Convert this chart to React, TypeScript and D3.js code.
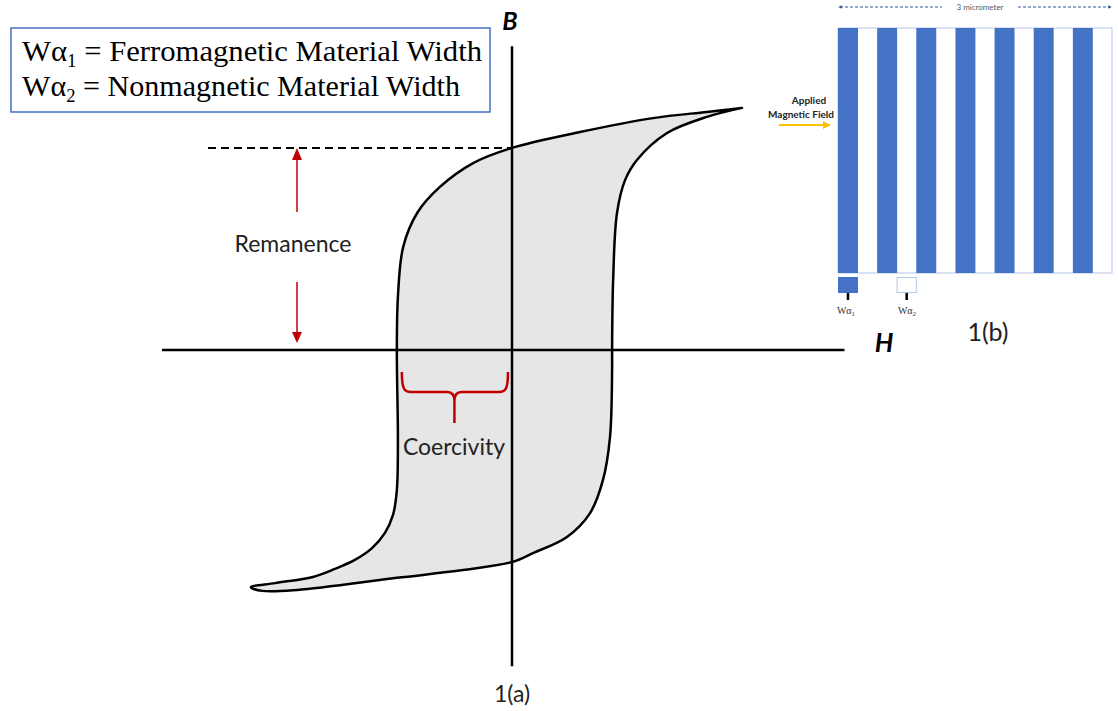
import * as d3 from "d3";

// hysteresis loop, (H, B) in arbitrary units
const descendingBranch: [number, number][] = [
  [6.57, 7.81], [5.57, 7.68], [4.03, 7.48], [1.94, 7.03], [0, 6.52],
  [-1.11, 6.03], [-2.06, 5.26], [-2.71, 4.42], [-3.11, 3.32], [-3.26, 1.71],
  [-3.29, 0], [-3.26, -2.9], [-3.29, -4.52], [-3.4, -5.32], [-3.63, -5.9],
  [-4.0, -6.39], [-4.49, -6.77], [-5.06, -7.06], [-5.69, -7.32],
  [-6.77, -7.52], [-7.46, -7.65],
];
const lowerEdge: [number, number][] = [
  [-7.14, -7.77], [-6.14, -7.74], [-3.29, -7.35], [-1.4, -7.1], [0, -6.84],
  [0.6, -6.55], [1.57, -6.03],
];
const ascendingBranch: [number, number][] = [
  [2.23, -5.26], [2.6, -4.19], [2.8, -2.81], [2.86, -0.65], [2.86, 0],
  [2.89, 2.26], [3.0, 4.42], [3.23, 5.48], [3.57, 6.13], [4.43, 7.0],
  [5.57, 7.52], [6.57, 7.81],
];

const remanence = 6.52;
const coercivity = -3.29;
const hAxisExtent = [-10, 9.5];
const bAxisExtent = [-10.2, 9.8];

const legendLines = [
  { sub: "1", label: "Ferromagnetic Material Width", len: 460 },
  { sub: "2", label: "Nonmagnetic Material Width", len: 438 },
];

// 1(b) stripe pattern
const stripes = [1, 2, 3, 4, 5, 6, 7];
const ferroShare = 0.51;

export default function App() {
  const width = 1118;
  const height = 711;

  const x = d3.scaleLinear().domain([-10, 10]).range([162, 862]);
  const y = d3.scaleLinear().domain([-10, 10]).range([660, 40]);

  const loop = [...descendingBranch, ...lowerEdge, ...ascendingBranch];
  const line = d3
    .line<[number, number]>()
    .x((d) => x(d[0]))
    .y((d) => y(d[1]))
    .curve(d3.curveCatmullRom.alpha(0.5));

  const x0 = x(0);
  const y0 = y(0);
  const yR = y(remanence);
  const xC = x(coercivity);

  const band = d3.scaleBand<number>().domain(stripes).range([838, 1112]);
  const stripeTop = 28;
  const stripeBottom = 273;
  const stripeW = band.bandwidth() * ferroShare;

  const red = "#c00000";
  const sans = "Lato, 'Open Sans', sans-serif";
  const serif = "'Liberation Serif', 'DejaVu Serif', serif";

  const arrowX = 297;
  const braceMid = (xC + x0) / 2;
  const bl = xC + 5;
  const br = x0 - 4;

  const b1 = band(1) as number;
  const b2 = band(2) as number;
  const gapW = band.bandwidth() - stripeW;

  return (
    <svg
      width={width}
      height={height}
      style={{ position: "absolute", left: 0, top: 0, background: "#fff" }}
    >
      <defs>
        <marker id="ora" viewBox="0 0 10 10" refX="9" refY="5" markerWidth="4" markerHeight="4" orient="auto">
          <path d="M0,0 L10,5 L0,10 z" fill="#ffc000" />
        </marker>
        <marker id="blu" viewBox="0 0 10 10" refX="5" refY="5" markerWidth="3" markerHeight="3" orient="auto-start-reverse">
          <path d="M0,0 L10,5 L0,10 z" fill="#2f5597" />
        </marker>
      </defs>

      {/* legend box */}
      <rect x={11} y={28} width={479} height={84} fill="#fff" stroke="#4472c4" strokeWidth={1.5} />
      {legendLines.map((d, i) => (
        <text
          key={d.sub}
          x={22}
          y={61 + i * 35}
          fontFamily={serif}
          fontSize={29}
          fill="#000"
          textLength={d.len}
          lengthAdjust="spacingAndGlyphs"
        >
          Wα<tspan fontSize={18} dy={6}>{d.sub}</tspan>
          <tspan dy={-6}> = {d.label}</tspan>
        </text>
      ))}

      {/* loop */}
      <path d={line(loop) + "Z"} fill="#e6e6e6" stroke="#000" strokeWidth={2.5} strokeLinejoin="round" />

      {/* axes */}
      <line x1={x(hAxisExtent[0])} x2={x(hAxisExtent[1])} y1={y0} y2={y0} stroke="#000" strokeWidth={2.5} />
      <line x1={x0} x2={x0} y1={y(bAxisExtent[0])} y2={y(bAxisExtent[1])} stroke="#000" strokeWidth={2.5} />
      <text x={510} y={30} textAnchor="middle" fontFamily={sans} fontWeight={700} fontStyle="italic" fontSize={25}>B</text>
      <text x={884} y={352} textAnchor="middle" fontFamily={sans} fontWeight={700} fontStyle="italic" fontSize={26}>H</text>

      {/* remanence */}
      <line x1={208} x2={x0} y1={yR} y2={yR} stroke="#000" strokeWidth={2} strokeDasharray="8,5" />
      <line x1={arrowX} x2={arrowX} y1={212} y2={158} stroke={red} strokeWidth={1.5} />
      <path d={`M${arrowX},${yR} L${arrowX - 5},${yR + 12} L${arrowX + 5},${yR + 12} Z`} fill={red} />
      <line x1={arrowX} x2={arrowX} y1={282} y2={334} stroke={red} strokeWidth={1.5} />
      <path d={`M${arrowX},${y0 - 7} L${arrowX - 5},${y0 - 18} L${arrowX + 5},${y0 - 18} Z`} fill={red} />
      <text x={293} y={252} textAnchor="middle" fontFamily={sans} fontSize={23} fill="#222">Remanence</text>

      {/* coercivity brace */}
      <path
        d={`M${bl},372 C${bl},388 ${bl + 2},392 ${bl + 9},392 L${braceMid - 7},392 C${braceMid - 2},392 ${braceMid},395 ${braceMid},401 L${braceMid},423 M${braceMid},401 C${braceMid},395 ${braceMid + 2},392 ${braceMid + 7},392 L${br - 9},392 C${br - 2},392 ${br},388 ${br},372`}
        fill="none"
        stroke={red}
        strokeWidth={2.5}
      />
      <text x={454} y={455} textAnchor="middle" fontFamily={sans} fontSize={23} fill="#222">Coercivity</text>

      <text x={512} y={702} textAnchor="middle" fontFamily={sans} fontSize={23} fill="#222">1(a)</text>

      {/* 1(b) panel */}
      <line x1={840} x2={942} y1={7} y2={7} stroke="#2f5597" strokeWidth={1.2} strokeDasharray="3,2" markerStart="url(#blu)" />
      <line x1={1018} x2={1110} y1={7} y2={7} stroke="#2f5597" strokeWidth={1.2} strokeDasharray="3,2" markerEnd="url(#blu)" />
      <text x={980} y={10} textAnchor="middle" fontFamily={sans} fontSize={8} fill="#595959">3 micrometer</text>

      <rect x={838} y={stripeTop} width={274} height={stripeBottom - stripeTop} fill="#fff" stroke="#b4c7e7" strokeWidth={1} />
      {stripes.map((s) => (
        <rect key={s} x={band(s)} y={stripeTop} width={stripeW} height={stripeBottom - stripeTop} fill="#4472c4" />
      ))}

      <text x={809} y={104} textAnchor="middle" fontFamily={sans} fontWeight={700} fontSize={10} fill="#222">Applied</text>
      <text x={801} y={118} textAnchor="middle" fontFamily={sans} fontWeight={700} fontSize={10} fill="#222">Magnetic Field</text>
      <line x1={779} x2={830} y1={125} y2={125} stroke="#ffc000" strokeWidth={2} markerEnd="url(#ora)" />

      <rect x={b1} y={277} width={stripeW} height={16} fill="#4472c4" />
      <line x1={b1 + stripeW / 2} x2={b1 + stripeW / 2} y1={293} y2={300} stroke="#000" strokeWidth={2.5} />
      <rect x={b2 + stripeW} y={277.5} width={gapW} height={15} fill="#fff" stroke="#b4c7e7" strokeWidth={1} />
      <line x1={b2 + stripeW + gapW / 2} x2={b2 + stripeW + gapW / 2} y1={293} y2={300} stroke="#000" strokeWidth={2.5} />
      {["1", "2"].map((sub, i) => (
        <text key={sub} x={i === 0 ? 846 : 907} y={314} textAnchor="middle" fontFamily={serif} fontSize={10} fill="#333">
          Wα<tspan fontSize={7} dy={2}>{sub}</tspan>
        </text>
      ))}
      <text x={988} y={341} textAnchor="middle" fontFamily={sans} fontSize={25} fill="#222">1(b)</text>
    </svg>
  );
}
